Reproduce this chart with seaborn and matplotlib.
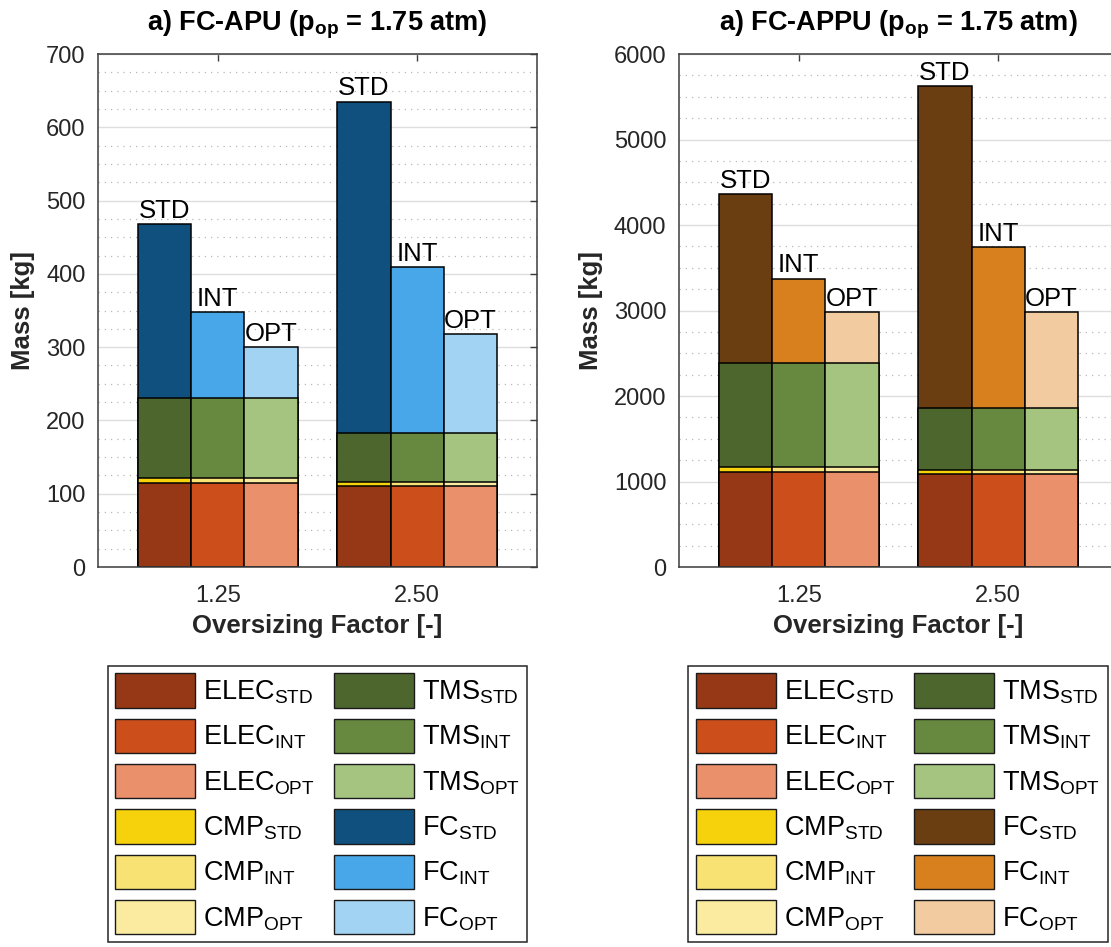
import numpy as np
import pandas as pd
import matplotlib
matplotlib.use("Agg")
import matplotlib.pyplot as plt
from matplotlib.patches import Patch
from matplotlib.ticker import MultipleLocator
import seaborn as sns

# ---------------- data ----------------
factors = ["1.25", "2.50"]
variants = ["STD", "INT", "OPT"]
components = ["ELEC", "CMP", "TMS", "FC"]

# FC-APU (left panel), kg
apu_elec = [114, 110]
apu_cmp = [8, 6]
apu_tms = [108, 67]
apu_fc_std = [238, 452]
apu_fc_int = [118, 226]
apu_fc_opt = [70, 135]

# FC-APPU (right panel), kg
appu_elec = [1115, 1090]
appu_cmp = [52, 43]
appu_tms = [1218, 726]
appu_fc_std = [1972, 3768]
appu_fc_int = [986, 1880]
appu_fc_opt = [593, 1119]

titles = [r"a) FC-APU (p$_{\mathbf{op}}$ = 1.75 atm)",
          r"a) FC-APPU (p$_{\mathbf{op}}$ = 1.75 atm)"]
ylims = [700, 6000]
ymajor = [100, 1000]
yminor = [25, 250]

elec_colors = ["#963815", "#CB4E1B", "#EA906A"]
cmp_colors = ["#F5D20C", "#F8E274", "#FBEBA0"]
tms_colors = ["#4C662E", "#67883F", "#A4C47F"]
fc_colors_apu = ["#0F507E", "#47A7E8", "#A3D3F3"]
fc_colors_appu = ["#6B3E12", "#D87F1E", "#F2CBA0"]


def build_df(elec, cmp_, tms, fc_std, fc_int, fc_opt):
    fc = {"STD": fc_std, "INT": fc_int, "OPT": fc_opt}
    rows = []
    for i, f in enumerate(factors):
        for v in variants:
            vals = {"ELEC": elec[i], "CMP": cmp_[i], "TMS": tms[i], "FC": fc[v][i]}
            cum = 0
            for c in components:
                cum += vals[c]
                rows.append(dict(factor=f, variant=v, component=c,
                                 mass=vals[c], cum=cum))
    return pd.DataFrame(rows)


dfs = [build_df(apu_elec, apu_cmp, apu_tms, apu_fc_std, apu_fc_int, apu_fc_opt),
       build_df(appu_elec, appu_cmp, appu_tms, appu_fc_std, appu_fc_int, appu_fc_opt)]
palettes = [
    {"ELEC": elec_colors, "CMP": cmp_colors, "TMS": tms_colors, "FC": fc_colors_apu},
    {"ELEC": elec_colors, "CMP": cmp_colors, "TMS": tms_colors, "FC": fc_colors_appu},
]

# ---------------- style ----------------
sns.set_theme(style="white")
plt.rcParams["font.family"] = ["Liberation Sans", "DejaVu Sans"]
plt.rcParams["mathtext.fontset"] = "custom"
plt.rcParams["mathtext.rm"] = "Liberation Sans"
plt.rcParams["mathtext.it"] = "Liberation Sans:italic"
plt.rcParams["mathtext.bf"] = "Liberation Sans:bold"

W, H = 1111, 947
fig = plt.figure(figsize=(W / 100, H / 100), dpi=100)

ax_boxes = [
    [98 / W, (H - 567) / H, 439 / W, 513 / H],
    [679 / W, (H - 567) / H, 439 / W, 513 / H],
]
legend_centers = [317.5 / W, 898 / W]

text_col = "#262626"
spine_col = "#3c3c3c"

for k in range(2):
    ax = fig.add_axes(ax_boxes[k])
    df = dfs[k]
    pal = palettes[k]
    for j, comp in enumerate(components[::-1]):
        sub = df[df["component"] == comp]
        n_before = len(ax.containers)
        sns.barplot(data=sub, x="factor", y="cum", hue="variant",
                    order=factors, hue_order=variants, palette=pal[comp],
                    saturation=1, errorbar=None, width=0.8, dodge=True,
                    edgecolor="black", linewidth=1.1, legend=False, ax=ax)
        if comp == "FC":
            for cont, v in zip(ax.containers[n_before:], variants):
                ax.bar_label(cont, labels=[v] * len(cont), padding=1,
                             fontsize=18.5, color="black")

    ax.set_xlim(-0.6, 1.6)
    ax.set_ylim(0, ylims[k])
    ax.yaxis.set_major_locator(MultipleLocator(ymajor[k]))
    ax.yaxis.set_minor_locator(MultipleLocator(yminor[k]))
    ax.set_axisbelow(True)
    ax.grid(axis="y", which="major", color="#dedede", linewidth=1.0, linestyle="-")
    ax.grid(axis="y", which="minor", color="#b8b8b8", linewidth=0.9,
            linestyle=(0, (1, 4)))
    ax.grid(axis="x", which="both", visible=False)

    ax.tick_params(axis="both", which="major", direction="in", length=5,
                   width=1, color=spine_col, labelsize=17, labelcolor=text_col,
                   top=True, right=True, pad=9)
    ax.tick_params(axis="x", which="major", pad=13)
    ax.tick_params(axis="both", which="minor", length=0)
    for s in ax.spines.values():
        s.set_visible(True)
        s.set_color(spine_col)
        s.set_linewidth(1.1)

    ax.set_xticks(range(len(factors)))
    ax.set_xticklabels(factors)
    ax.set_xlabel("Oversizing Factor [-]", fontsize=18.5, fontweight="bold",
                  color=text_col, labelpad=5)
    ax.set_ylabel("Mass [kg]", fontsize=18.5, fontweight="bold",
                  color=text_col, labelpad=8)
    ax.set_title(titles[k], fontsize=19.5, fontweight="bold", color="black", pad=17)

    # legend
    handles, labels = [], []
    for comp in components:
        for v, col in zip(variants, pal[comp]):
            handles.append(Patch(facecolor=col, edgecolor="#1a1a1a", linewidth=1))
            labels.append(comp + r"$_{\mathrm{" + v + "}}$")
    leg = fig.legend(handles, labels, ncol=2, loc="upper center",
                     bbox_to_anchor=(legend_centers[k], 1 - 666 / H),
                     fontsize=19.5, handlelength=2.95, handleheight=1.57,
                     labelspacing=0.41, handletextpad=0.3, columnspacing=0.7,
                     borderpad=0.27, borderaxespad=0, frameon=True, fancybox=False,
                     framealpha=1, edgecolor="#262626", labelcolor="black")
    leg.get_frame().set_linewidth(1.1)

fig.savefig("out.png", dpi=100)
